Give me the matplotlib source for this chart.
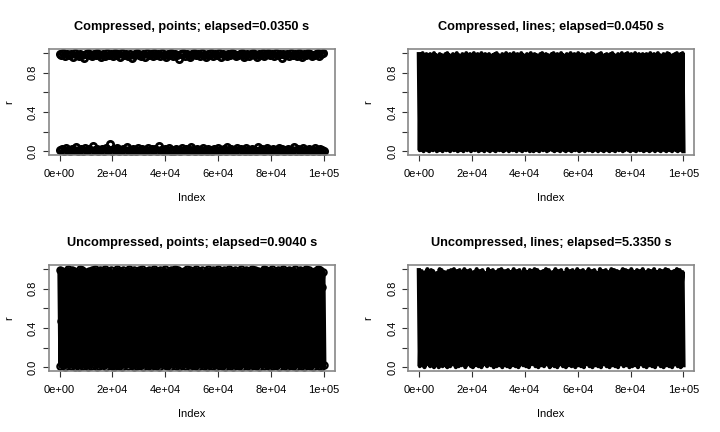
import numpy as np
import matplotlib
matplotlib.use("Agg")
import matplotlib.pyplot as plt

plt.rcParams['font.family'] = ['Liberation Sans', 'DejaVu Sans']
# keep every vertex of the dense zigzags, no path simplification
plt.rcParams['path.simplify'] = False

r_compressed = [
    0.99, 0.01, 0.98, 0.02, 1.00, 0.00, 0.97, 0.03, 0.99, 0.01, 0.98, 0.00, 0.99, 0.02, 0.96, 0.01, 1.00, 0.04, 0.98, 0.00,
    0.97, 0.01, 0.99, 0.02, 0.98, 0.00, 0.95, 0.03, 0.99, 0.01, 1.00, 0.02, 0.98, 0.00, 0.97, 0.05, 0.99, 0.01, 0.98, 0.02,
    1.00, 0.00, 0.98, 0.01, 0.96, 0.02, 0.99, 0.00, 0.97, 0.03, 1.00, 0.01, 0.98, 0.07, 0.99, 0.00, 0.97, 0.02, 1.00, 0.01,
    0.98, 0.03, 0.99, 0.00, 0.96, 0.01, 1.00, 0.02, 0.98, 0.00, 0.99, 0.04, 0.97, 0.01, 0.99, 0.00, 0.95, 0.02, 0.98, 0.01,
    0.99, 0.00, 1.00, 0.03, 0.98, 0.01, 0.97, 0.02, 0.99, 0.00, 0.96, 0.01, 1.00, 0.03, 0.98, 0.00, 0.99, 0.02, 0.97, 0.01,
    1.00, 0.02, 0.98, 0.00, 0.99, 0.05, 0.97, 0.01, 1.00, 0.00, 0.98, 0.02, 0.96, 0.01, 0.99, 0.03, 0.98, 0.00, 1.00, 0.01,
    0.97, 0.00, 0.99, 0.02, 0.98, 0.01, 0.94, 0.00, 0.99, 0.03, 1.00, 0.01, 0.97, 0.02, 0.99, 0.00, 0.98, 0.01, 0.96, 0.04,
    0.99, 0.01, 1.00, 0.00, 0.98, 0.02, 0.99, 0.01, 0.97, 0.00, 1.00, 0.03, 0.98, 0.01, 0.96, 0.00, 0.99, 0.02, 0.98, 0.01,
    1.00, 0.00, 0.97, 0.02, 0.99, 0.01, 0.98, 0.03, 1.00, 0.00, 0.96, 0.01, 0.99, 0.02, 0.98, 0.00, 0.97, 0.04, 0.99, 0.01,
    0.98, 0.02, 1.00, 0.00, 0.99, 0.01, 0.97, 0.03, 0.98, 0.00, 0.99, 0.02, 1.00, 0.01, 0.96, 0.00, 0.98, 0.03, 0.99, 0.01,
    0.97, 0.00, 0.99, 0.02, 1.00, 0.01, 0.98, 0.00, 0.96, 0.04, 0.99, 0.01, 0.98, 0.02, 1.00, 0.00, 0.97, 0.01, 0.99, 0.03,
    1.00, 0.01, 0.98, 0.00, 0.99, 0.02, 0.97, 0.01, 1.00, 0.00, 0.98, 0.03, 0.99, 0.01, 0.95, 0.02, 0.99, 0.00, 0.98, 0.01,
    0.99, 0.02, 0.97, 0.00, 1.00, 0.01, 0.98, 0.04, 0.99, 0.00, 0.97, 0.02, 1.00, 0.01, 0.98, 0.00, 0.96, 0.03, 0.99, 0.01,
    0.98, 0.00, 1.00, 0.02, 0.99, 0.01, 0.97, 0.00, 0.98, 0.03, 0.99, 0.01, 1.00, 0.00, 0.97, 0.02, 0.99, 0.01, 1.00, 0.00,
]

r_uncompressed = [
    0.99, 0.01, 0.47, 0.98, 0.02, 0.73, 0.00, 0.97, 0.28, 1.00, 0.03, 0.61, 0.01, 0.99, 0.15, 0.98, 0.00, 0.84, 0.02, 0.96,
    0.39, 0.00, 1.00, 0.55, 0.99, 0.01, 0.22, 0.97, 0.02, 0.68, 0.00, 0.98, 0.91, 0.01, 0.99, 0.34, 0.03, 1.00, 0.77, 0.00,
    0.98, 0.12, 0.01, 0.99, 0.58, 0.02, 0.97, 0.43, 1.00, 0.00, 0.66, 0.98, 0.03, 0.29, 0.99, 0.01, 0.88, 0.00, 0.97, 0.51,
    0.02, 1.00, 0.19, 0.01, 0.98, 0.72, 0.00, 0.99, 0.37, 0.03, 0.96, 0.62, 0.01, 1.00, 0.08, 0.98, 0.02, 0.45, 0.99, 0.00,
    0.81, 0.97, 0.01, 0.26, 0.99, 0.02, 0.59, 1.00, 0.00, 0.93, 0.03, 0.98, 0.41, 0.01, 0.99, 0.17, 0.00, 0.97, 0.70, 0.02,
    1.00, 0.33, 0.01, 0.98, 0.64, 0.00, 0.99, 0.05, 0.96, 0.49, 0.02, 1.00, 0.86, 0.01, 0.97, 0.24, 0.00, 0.99, 0.57, 0.03,
    0.98, 0.11, 1.00, 0.01, 0.75, 0.99, 0.00, 0.38, 0.97, 0.02, 0.69, 0.98, 0.01, 0.14, 1.00, 0.03, 0.53, 0.99, 0.00, 0.90,
    0.02, 0.97, 0.31, 0.01, 1.00, 0.63, 0.00, 0.98, 0.46, 0.03, 0.99, 0.20, 0.01, 0.96, 0.79, 0.00, 1.00, 0.35, 0.02, 0.98,
    0.56, 0.01, 0.99, 0.09, 0.97, 0.00, 0.71, 1.00, 0.02, 0.27, 0.98, 0.01, 0.83, 0.99, 0.00, 0.42, 0.97, 0.03, 0.60, 1.00,
    0.01, 0.18, 0.98, 0.00, 0.67, 0.99, 0.02, 0.50, 0.96, 0.01, 0.92, 1.00, 0.00, 0.23, 0.98, 0.03, 0.74, 0.99, 0.01, 0.36,
    0.97, 0.00, 0.85, 1.00, 0.02, 0.13, 0.99, 0.01, 0.58, 0.98, 0.00, 0.44, 0.97, 0.03, 0.95, 1.00, 0.01, 0.30, 0.99, 0.02,
    0.65, 0.98, 0.00, 0.07, 1.00, 0.01, 0.52, 0.97, 0.02, 0.80, 0.99, 0.00, 0.25, 0.98, 0.03, 0.69, 1.00, 0.01, 0.40, 0.97,
    0.00, 0.89, 0.99, 0.02, 0.16, 0.98, 0.01, 0.61, 1.00, 0.00, 0.32, 0.97, 0.03, 0.76, 0.99, 0.01, 0.48, 0.98, 0.00, 0.21,
    1.00, 0.02, 0.87, 0.99, 0.01, 0.54, 0.97, 0.00, 0.10, 0.98, 0.03, 0.66, 1.00, 0.01, 0.39, 0.99, 0.00, 0.82, 0.97, 0.02,
]

n_points = 100000
panel_names = ["Compressed, points", "Compressed, lines",
               "Uncompressed, points", "Uncompressed, lines"]
elapsed = [0.0350, 0.0450, 0.9040, 5.3350]

y_ticks = [0.0, 0.2, 0.4, 0.6, 0.8, 1.0]
y_labels = ["0.0", "", "0.4", "", "0.8", ""]
x_ticks = [0, 20000, 40000, 60000, 80000, 100000]
x_labels = ["0e+00", "2e+04", "4e+04", "6e+04", "8e+04", "1e+05"]

fig = plt.figure(figsize=(7.2, 4.32), dpi=100)

positions = [
    [0.068, 0.641, 0.397, 0.245],
    [0.567, 0.641, 0.397, 0.245],
    [0.068, 0.141, 0.397, 0.245],
    [0.567, 0.141, 0.397, 0.245],
]


def style_axes(ax, title):
    ax.set_xlim(-4000, 104000)
    ax.set_ylim(-0.04, 1.04)
    for s in ax.spines.values():
        s.set_color('#888888')
        s.set_linewidth(1.2)
    ax.set_xticks(x_ticks)
    ax.set_xticklabels(x_labels)
    ax.set_yticks(y_ticks)
    ax.set_yticklabels(y_labels, rotation=90, va='center')
    ax.tick_params(direction='out', length=4, width=0.8, color='#333333',
                   labelsize=8)
    ax.tick_params(axis='x', pad=6)
    ax.tick_params(axis='y', pad=4)
    ax.set_xlabel('Index', fontsize=8, labelpad=10)
    ax.set_ylabel('r', fontsize=8, labelpad=10)
    ax.set_title(title, fontsize=9.2, fontweight='bold', pad=14)


for k in range(4):
    ax = fig.add_axes(positions[k])
    if k < 2:
        r = r_compressed
    else:
        r = r_uncompressed
    idx = np.linspace(1, n_points, len(r))
    if k == 0:
        ax.plot(idx, r, 'o', mfc='none', mec='black', ms=4.5, mew=2.0)
    elif k == 2:
        # at 1e5 points the overplotted circles merge into one solid block
        ax.plot(idx, r, '-o', color='black', lw=3.2, mfc='none', ms=4.5, mew=1.6)
    else:
        ax.plot(idx, r, '-', color='black', lw=3.0)
    style_axes(ax, "%s; elapsed=%.4f s" % (panel_names[k], elapsed[k]))

plt.savefig('out.png', dpi=100)
